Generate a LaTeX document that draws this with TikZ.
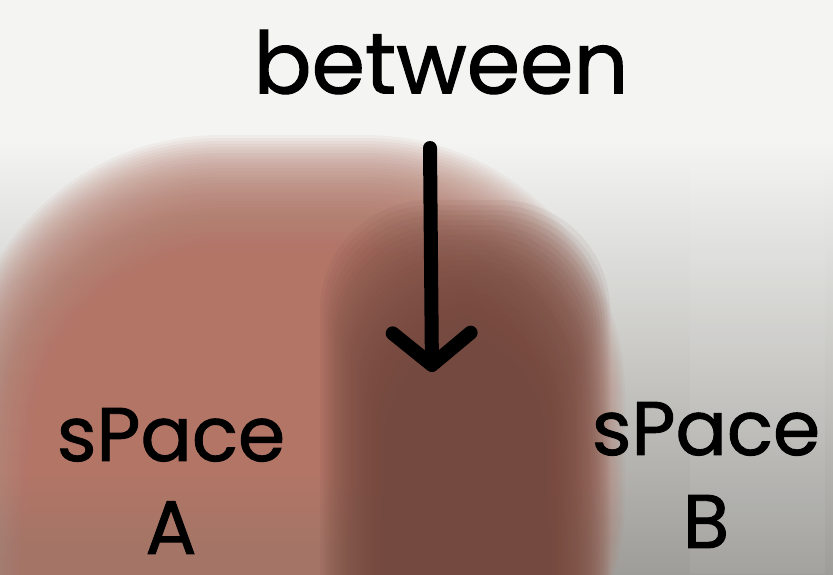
\documentclass[tikz,border=0pt]{standalone}
\usepackage{fontspec}
\setmainfont{Poppins}[FakeBold=1.2]
\usetikzlibrary{arrows.meta,positioning}
\definecolor{paper}{HTML}{F4F4F2}
\definecolor{haze}{HTML}{CCCBC7}
\definecolor{fog}{HTML}{9E9D99}
\definecolor{clay}{HTML}{B27566}
\definecolor{umber}{HTML}{744A40}

\begin{document}
\begin{tikzpicture}[x=1pt,y=-1pt,>=Latex,
  word/.style={font=\fontsize{76}{93}\selectfont,align=center,inner sep=0pt},
  pointer/.style={line width=14pt,line cap=round,line join=round,
    -{Straight Barb[length=32pt,width=78pt,round]}}]
  \useasboundingbox (0,0) rectangle (833,574);
  % backdrop
  \fill[paper] (0,0) rectangle (833,140);
  \shade[top color=paper,middle color=haze,bottom color=fog] (0,140) rectangle (833,574);
  \fill[white,opacity=0.06] (690,60) rectangle (825,574);
  % soft clay patch and its darker middle
  \foreach \k [evaluate=\k as \d using 2.2*\k, evaluate=\k as \v using 3*\k,
               evaluate=\k as \r using 260-2*\k] in {0,...,39}
    \fill[clay,opacity=0.065,rounded corners=\r pt] (-40+\d,135+\v) rectangle (625-\d,760);
  \foreach \k [evaluate=\k as \d using 2.5*\k, evaluate=\k as \v using 5*\k] in {0,...,29}
    \fill[umber,opacity=0.08,rounded corners=110pt] (320+\d,200+\v) rectangle (610-\d,760);
  % words
  \node[word,font=\fontsize{86}{90}\selectfont] (between) at (441,62) {between};
  \node[word] (spaceA) at (171,481) {sPace\\A};
  \node[word] (spaceB) at (706,475) {sPace\\B};
  \coordinate (tail) at (430,148);
  \coordinate (tip) at (432,372);
  \draw[pointer] (tail) -- (tip);
\end{tikzpicture}
\end{document}
